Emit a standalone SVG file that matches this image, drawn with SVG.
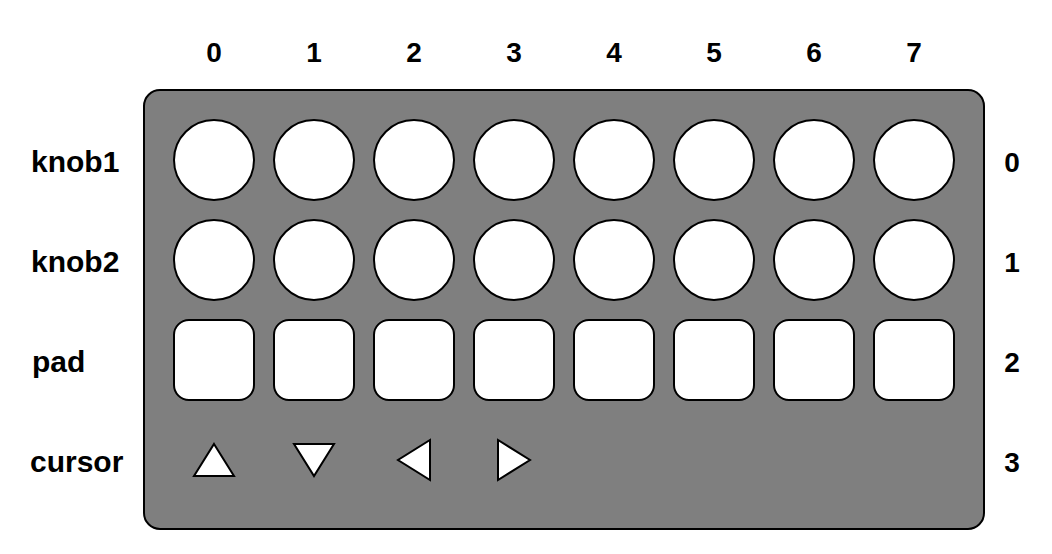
<svg xmlns="http://www.w3.org/2000/svg" width="1052" height="554" viewBox="0 0 1052 554">
<style>
.lbl{font-family:"Liberation Sans",Arial,Helvetica,sans-serif;font-weight:bold;font-size:28px;fill:#000}
.row{font-size:30px}
.c{text-anchor:middle}
.ctl{fill:#fff;stroke:#000;stroke-width:2}
</style>
<rect width="1052" height="554" fill="#fff"/>
<g id="panel"><rect x="144" y="90" width="840" height="439" rx="16" ry="16" fill="#7f7f7f" stroke="#000" stroke-width="2"/></g>
<g id="col-labels">
<text class="lbl c" x="214" y="62">0</text>
<text class="lbl c" x="314" y="62">1</text>
<text class="lbl c" x="414" y="62">2</text>
<text class="lbl c" x="514" y="62">3</text>
<text class="lbl c" x="614" y="62">4</text>
<text class="lbl c" x="714" y="62">5</text>
<text class="lbl c" x="814" y="62">6</text>
<text class="lbl c" x="914" y="62">7</text>
</g>
<g id="row-labels">
<text class="lbl row" x="31" y="172">knob1</text>
<text class="lbl row" x="31" y="272">knob2</text>
<text class="lbl row" x="32" y="372">pad</text>
<text class="lbl row" x="30" y="472">cursor</text>
<text class="lbl c" x="1012" y="172">0</text>
<text class="lbl c" x="1012" y="272">1</text>
<text class="lbl c" x="1012" y="372">2</text>
<text class="lbl c" x="1012" y="472">3</text>
</g>
<g id="knob1">
<circle class="ctl" cx="214" cy="160" r="40"/><circle class="ctl" cx="314" cy="160" r="40"/><circle class="ctl" cx="414" cy="160" r="40"/><circle class="ctl" cx="514" cy="160" r="40"/><circle class="ctl" cx="614" cy="160" r="40"/><circle class="ctl" cx="714" cy="160" r="40"/><circle class="ctl" cx="814" cy="160" r="40"/><circle class="ctl" cx="914" cy="160" r="40"/>
</g>
<g id="knob2">
<circle class="ctl" cx="214" cy="260" r="40"/><circle class="ctl" cx="314" cy="260" r="40"/><circle class="ctl" cx="414" cy="260" r="40"/><circle class="ctl" cx="514" cy="260" r="40"/><circle class="ctl" cx="614" cy="260" r="40"/><circle class="ctl" cx="714" cy="260" r="40"/><circle class="ctl" cx="814" cy="260" r="40"/><circle class="ctl" cx="914" cy="260" r="40"/>
</g>
<g id="pad">
<rect class="ctl" x="174" y="320" width="80" height="80" rx="15"/><rect class="ctl" x="274" y="320" width="80" height="80" rx="15"/><rect class="ctl" x="374" y="320" width="80" height="80" rx="15"/><rect class="ctl" x="474" y="320" width="80" height="80" rx="15"/><rect class="ctl" x="574" y="320" width="80" height="80" rx="15"/><rect class="ctl" x="674" y="320" width="80" height="80" rx="15"/><rect class="ctl" x="774" y="320" width="80" height="80" rx="15"/><rect class="ctl" x="874" y="320" width="80" height="80" rx="15"/>
</g>
<g id="cursor">
<polygon class="ctl" points="214,444 234,476 194,476"/>
<polygon class="ctl" points="294,444 334,444 314,476"/>
<polygon class="ctl" points="430,440 430,480 398,460"/>
<polygon class="ctl" points="498,440 498,480 530,460"/>
</g>
</svg>
